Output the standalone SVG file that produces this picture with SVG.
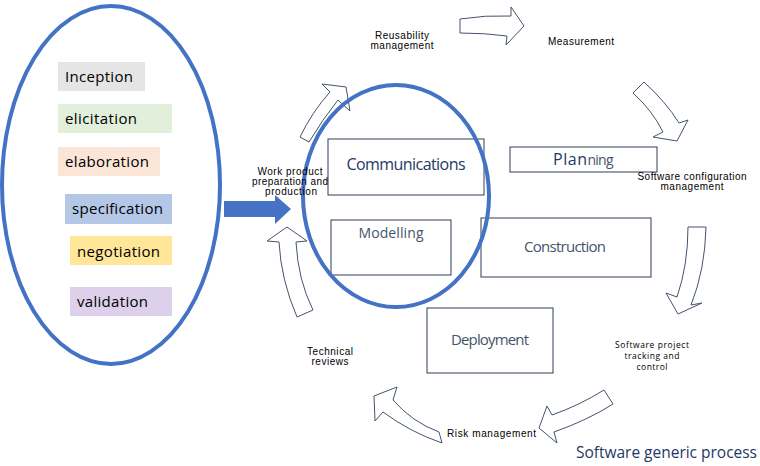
<svg xmlns="http://www.w3.org/2000/svg" width="760" height="466" viewBox="0 0 760 466">
<style>
.bg{fill:#ffffff}
.ring{fill:none;stroke:#4472C4;stroke-width:4}
.box{fill:#ffffff;stroke:#2F3E55;stroke-width:1}
.curv{fill:#ffffff;stroke:#44546A;stroke-width:1;stroke-linejoin:miter}
.item{font-family:"Open Sans","Noto Sans",sans-serif;font-size:15px;fill:#000000}
.node{font-family:"Open Sans","Noto Sans",sans-serif;fill:#44546A;text-anchor:middle}
.lbl{font-family:"Liberation Sans",Arial,sans-serif;font-size:10px;fill:#000000;text-anchor:middle}
.lbs{font-family:"Open Sans","Noto Sans",sans-serif;font-size:8.5px;fill:#000000;text-anchor:middle}
.title{font-family:"Open Sans","Noto Sans",sans-serif;font-size:15.5px;fill:#1F3864}
</style>
<rect class="bg" x="0" y="0" width="760" height="466"/>

<g id="connectors">
  <path class="curv" d="M460,19 Q485,15 511,16 L511,7 L524,26 L506,45 L507,36 Q485,33 460,33 Z"/>
  <path class="curv" d="M644,82 Q666,102 679,123 L688,120 L677,141 L653,137 L663,132 Q652,110 633,93 Z"/>
  <path class="curv" d="M688,227 L706,227 Q705,270 691,305 L702,303 L678,314 L666,293 L677,297 Q688,265 688,227 Z"/>
  <path class="curv" d="M604,390 Q580,405 552,415 L547,406 L539,428 L557,443 L554,432 Q588,420 613,404 Z"/>
  <path class="curv" d="M439,432 Q412,422 393,400 L397,387 L374,396 L375,421 L383,412 Q410,432 442,443 Z"/>
  <path class="curv" d="M287,227 L307,241 L296,242 Q298,280 313,310 L297,317 Q281,280 279,242 L267,241 Z"/>
  <path class="curv" d="M300,137 Q312,112 330,92 L322,84 L346,87 L350,111 L338,100 Q322,120 309,142 Z"/>
  <path fill="#4472C4" d="M224,201 L275,201 L275,195 L291,209 L275,224 L275,217 L224,217 Z"/>
</g>

<g id="requirements">
  <ellipse class="ring" cx="111" cy="185" rx="109" ry="179"/>
  <g id="inception"><rect x="58" y="62" width="87" height="29" fill="#E5E5E5"/><text class="item" x="65" y="82" textLength="68">Inception</text></g>
  <g id="elicitation"><rect x="58" y="104" width="114" height="29" fill="#E2EFDA"/><text class="item" x="65" y="124" textLength="72">elicitation</text></g>
  <g id="elaboration"><rect x="58" y="147" width="102" height="29" fill="#FBE5D6"/><text class="item" x="65" y="167" textLength="84">elaboration</text></g>
  <g id="specification"><rect x="65" y="194" width="107" height="30" fill="#B4C7E7"/><text class="item" x="72" y="214" textLength="91">specification</text></g>
  <g id="negotiation"><rect x="70" y="236" width="102" height="29" fill="#FFE699"/><text class="item" x="77" y="257" textLength="83">negotiation</text></g>
  <g id="validation"><rect x="70" y="287" width="102" height="29" fill="#DDD0EA"/><text class="item" x="77" y="307" textLength="71">validation</text></g>
</g>

<g id="communications"><rect class="box" x="328" y="139" width="156" height="56"/><text class="node" x="406" y="170" font-size="16" style="fill:#1F3864" textLength="119">Communications</text></g>
<g id="planning"><rect class="box" x="510" y="147" width="147" height="25"/><text x="553" y="165" font-family="Open Sans, Noto Sans, sans-serif"><tspan font-size="16" fill="#1F3864" textLength="34">Plan</tspan><tspan font-size="14" fill="#44546A" textLength="26">ning</tspan></text></g>
<g id="modelling"><rect class="box" x="331" y="220" width="120" height="55"/><text class="node" x="391" y="238" font-size="14" textLength="65">Modelling</text></g>
<g id="construction"><rect class="box" x="481" y="218" width="170" height="59"/><text class="node" x="565" y="252" font-size="15" textLength="82">Construction</text></g>
<g id="deployment"><rect class="box" x="427" y="308" width="126" height="65"/><text class="node" x="490" y="345" font-size="15" textLength="78">Deployment</text></g>

<ellipse id="core-ring" class="ring" cx="396" cy="196" rx="93" ry="111"/>

<g id="labels">
  <text class="lbl" x="402" y="39" textLength="54">Reusability</text>
  <text class="lbl" x="402" y="49" textLength="63">management</text>
  <text class="lbl" x="581" y="45" textLength="66">Measurement</text>
  <text class="lbl" x="290" y="175" textLength="65">Work product</text>
  <text class="lbl" x="290" y="185" textLength="76">preparation and</text>
  <text class="lbl" x="291" y="195" textLength="52">production</text>
  <text class="lbl" x="692" y="180" textLength="109">Software configuration</text>
  <text class="lbl" x="692" y="190" textLength="63">management</text>
  <text class="lbs" x="652" y="348" textLength="74">Software project</text>
  <text class="lbs" x="652" y="359" textLength="55">tracking and</text>
  <text class="lbs" x="652" y="370" textLength="31">control</text>
  <text class="lbl" x="330" y="355" textLength="46">Technical</text>
  <text class="lbl" x="330" y="365" textLength="37">reviews</text>
  <text class="lbl" x="447" y="437" style="text-anchor:start" textLength="89">Risk management</text>
  <text class="title" x="576" y="458" textLength="181">Software generic process</text>
</g>
</svg>
